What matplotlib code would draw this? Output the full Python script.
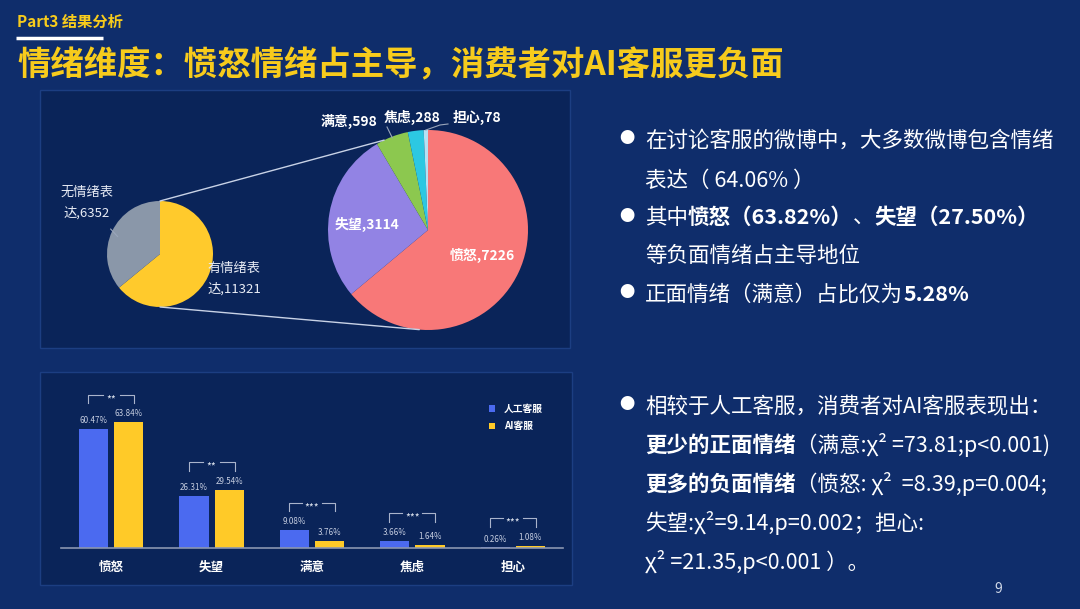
import matplotlib
matplotlib.use('Agg')
import matplotlib.pyplot as plt
from matplotlib.patches import Rectangle, ConnectionPatch
from matplotlib.lines import Line2D
import numpy as np

plt.rcParams['font.family'] = ['Noto Sans CJK SC', 'DejaVu Sans']

# ---------------- data ----------------
outer_labels = ['有情绪表\n达', '无情绪表\n达']
outer_values = [11321, 6352]
emo_labels = ['愤怒', '失望', '满意', '焦虑', '担心']
emo_values = [7226, 3114, 598, 288, 78]
bar_categories = ['愤怒', '失望', '满意', '焦虑', '担心']
human_pct = [60.47, 26.31, 9.08, 3.66, 0.26]
ai_pct = [63.84, 29.54, 3.76, 1.64, 1.08]
sig_marks = ['**', '**', '***', '***', '***']
series_names = ['人工客服', 'AI客服']

# ---------------- style ----------------
W, H = 1080, 609
BG = '#0f2d6b'
PANEL = '#0a2459'
BORDER = '#1c3e82'
YELLOW = '#f7cb1c'
outer_colors = ['#ffca2c', '#8a97a9']
emo_colors = ['#f87878', '#9283e4', '#8cc84f', '#2cc8e2', '#b4e2f5']
bar_colors = ['#4b6af0', '#ffca28']

fig = plt.figure(figsize=(W / 100, H / 100), dpi=100)
fig.patch.set_facecolor(BG)
bg = fig.add_axes([0, 0, 1, 1])
bg.set_xlim(0, W)
bg.set_ylim(H, 0)
bg.axis('off')
bg.set_zorder(0)


def px_axes(x0, y0, x1, y1):
    a = fig.add_axes([x0 / W, 1 - y1 / H, (x1 - x0) / W, (y1 - y0) / H])
    a.set_zorder(2)
    return a


# panels
for (x0, y0, x1, y1) in [(40, 90, 570, 348), (40, 372, 572, 585)]:
    bg.add_patch(Rectangle((x0, y0), x1 - x0, y1 - y0, facecolor=PANEL,
                           edgecolor=BORDER, lw=1.0))

# header
bg.text(17, 22, 'Part3 结果分析', fontsize=11, fontweight='bold', color=YELLOW,
        va='center', ha='left')
bg.plot([16, 103], [37.5, 37.5], color='white', lw=2.5, solid_capstyle='butt')
bg.text(17, 66, '情绪维度：愤怒情绪占主导，消费者对AI客服更负面', fontsize=24,
        fontweight='bold', color=YELLOW, va='center', ha='left')

# ---------------- small pie ----------------
ax1 = px_axes(107, 201, 213, 307)
w1, _ = ax1.pie(outer_values, colors=outer_colors, startangle=90,
                counterclock=False, wedgeprops=dict(linewidth=0))
ax1.set_xlim(-1, 1)
ax1.set_ylim(-1, 1)
lab_kw = dict(fontsize=9.5, color='#e8ecf5', linespacing=1.75, va='center')
ax1.text(-1.38, 0.97, f'{outer_labels[1]},{outer_values[1]}', ha='center', **lab_kw)
ax1.text(0.90, -0.47, f'{outer_labels[0]},{outer_values[0]}', ha='left', **lab_kw)
ax1.add_line(Line2D([-0.93, -0.80], [0.47, 0.33], color='#9aa6bb', lw=0.8,
                    clip_on=False))

# ---------------- big pie ----------------
ax2 = px_axes(328, 130, 528, 330)
w2, _ = ax2.pie(emo_values, colors=emo_colors, startangle=90,
                counterclock=False, wedgeprops=dict(linewidth=0))
ax2.set_xlim(-1, 1)
ax2.set_ylim(-1, 1)
mids = [np.deg2rad((w.theta1 + w.theta2) / 2) for w in w2]
inner_r = [0.6, 0.62]
inner_dy = [0.0, -0.05]
for i in range(2):
    ax2.text(inner_r[i] * np.cos(mids[i]), inner_r[i] * np.sin(mids[i]) + inner_dy[i],
             f'{emo_labels[i]},{emo_values[i]}', ha='center', va='center',
             fontsize=10, fontweight='bold', color='white')
outer_pos = [(-0.79, 1.09), (-0.16, 1.13), (0.49, 1.13)]
for i, (tx, ty) in zip(range(2, 5), outer_pos):
    ax2.text(tx, ty, f'{emo_labels[i]},{emo_values[i]}', ha='center', va='center',
             fontsize=10, fontweight='bold', color='white')
# leader lines
ax2.add_line(Line2D([np.cos(mids[2]) * 0.99, -0.41], [np.sin(mids[2]) * 0.99, 1.03],
                    color='#9aa6bb', lw=0.8, clip_on=False))
ax2.add_line(Line2D([np.cos(mids[4]), 0.12, 0.20], [np.sin(mids[4]), 1.05, 1.06],
                    color='#9aa6bb', lw=0.8, clip_on=False))

# connection lines between the pies
for a_small, ang in [((0, 1), 116), ((0, -1), -95)]:
    t = np.deg2rad(ang)
    con = ConnectionPatch(xyA=a_small, coordsA=ax1.transData,
                          xyB=(np.cos(t), np.sin(t)), coordsB=ax2.transData,
                          color='#c8d2e6', lw=1.0)
    con.set_zorder(3)
    fig.add_artist(con)

# ---------------- bar chart ----------------
ax3 = px_axes(61, 380.5, 563, 548)
ax3.set_facecolor('none')
x = np.arange(len(bar_categories))
bw, off = 0.29, 0.175
ax3.bar(x - off, human_pct, bw, color=bar_colors[0], label=series_names[0])
ax3.bar(x + off, ai_pct, bw, color=bar_colors[1], label=series_names[1])
ax3.set_xlim(-0.5, len(bar_categories) - 0.5)
ax3.set_ylim(0, 85)
for xi, h, a, s in zip(x, human_pct, ai_pct, sig_marks):
    for xx, v in [(xx_, v_) for xx_, v_ in [(xi - off, h), (xi + off, a)]]:
        ax3.text(xx, v + 4.2, f'{v:.2f}%', ha='center', va='center',
                 fontsize=5.8, color='#c5cde0', clip_on=False)
    yb = max(h, a) + 14
    gap = 0.085 if len(s) == 2 else 0.1
    kw = dict(color='#aab4cc', lw=0.8, clip_on=False)
    ax3.plot([xi - 0.23, xi - 0.23, xi - gap], [yb - 4.5, yb, yb], **kw)
    ax3.plot([xi + gap, xi + 0.23, xi + 0.23], [yb, yb, yb - 4.5], **kw)
    ax3.text(xi, yb - 2.3, s, ha='center', va='center', fontsize=7.5,
             color='#dfe5f0', clip_on=False)
ax3.set_xticks(x, bar_categories)
ax3.tick_params(axis='x', length=0, pad=9, labelsize=9, labelcolor='white')
for lab in ax3.get_xticklabels():
    lab.set_fontweight('bold')
ax3.set_yticks([])
for sp in ['top', 'right', 'left']:
    ax3.spines[sp].set_visible(False)
ax3.spines['bottom'].set_color('#8a96b0')
ax3.spines['bottom'].set_linewidth(1.2)
leg = ax3.legend(loc='upper left', bbox_to_anchor=(0.853, 0.86), frameon=False,
                 handlelength=0.6, handleheight=0.6,
                 handletextpad=0.9, labelspacing=0.75, borderaxespad=0,
                 borderpad=0, prop=dict(weight='bold', size=7))
for t in leg.get_texts():
    t.set_color('white')

# ---------------- right-hand text ----------------
renderer = fig.canvas.get_renderer()
FS = 15.5


def rich(xs, yc, segs):
    cx = xs
    for s, b in segs:
        t = bg.text(cx, yc + 8, s, fontsize=FS, fontweight='bold' if b else 'normal',
                    color='white', va='baseline', ha='left')
        cx += t.get_window_extent(renderer).width


def bullet(yc):
    bg.text(627, yc, '●', fontsize=11, color='white', ha='center', va='center')


TX = 645
bullet(139)
rich(TX, 139, [('在讨论客服的微博中，大多数微博包含情绪', False)])
rich(TX, 179, [('表达（ 64.06% ）', False)])
bullet(216)
rich(TX, 216, [('其中', False), ('愤怒（63.82%）', True), ('、', False),
               ('失望（27.50%）', True)])
rich(TX, 254, [('等负面情绪占主导地位', False)])
bullet(293)
rich(TX, 293, [('正面情绪（满意）占比仅为', False), ('5.28%', True)])

bullet(405)
rich(TX, 405, [('相较于人工客服，消费者对AI客服表现出：', False)])
rich(TX, 444, [('更少的正面情绪', True), ('（满意:χ² =73.81;p<0.001)', False)])
rich(TX, 483, [('更多的负面情绪', True), ('（愤怒: χ²  =8.39,p=0.004;', False)])
rich(TX, 522, [('失望:χ²=9.14,p=0.002；担心:', False)])
rich(TX, 561, [('χ² =21.35,p<0.001 ）。', False)])

bg.text(998, 589, '9', fontsize=10, color='#d0d8e8', ha='center', va='center')

fig.savefig('out.png', dpi=100, facecolor=BG)
